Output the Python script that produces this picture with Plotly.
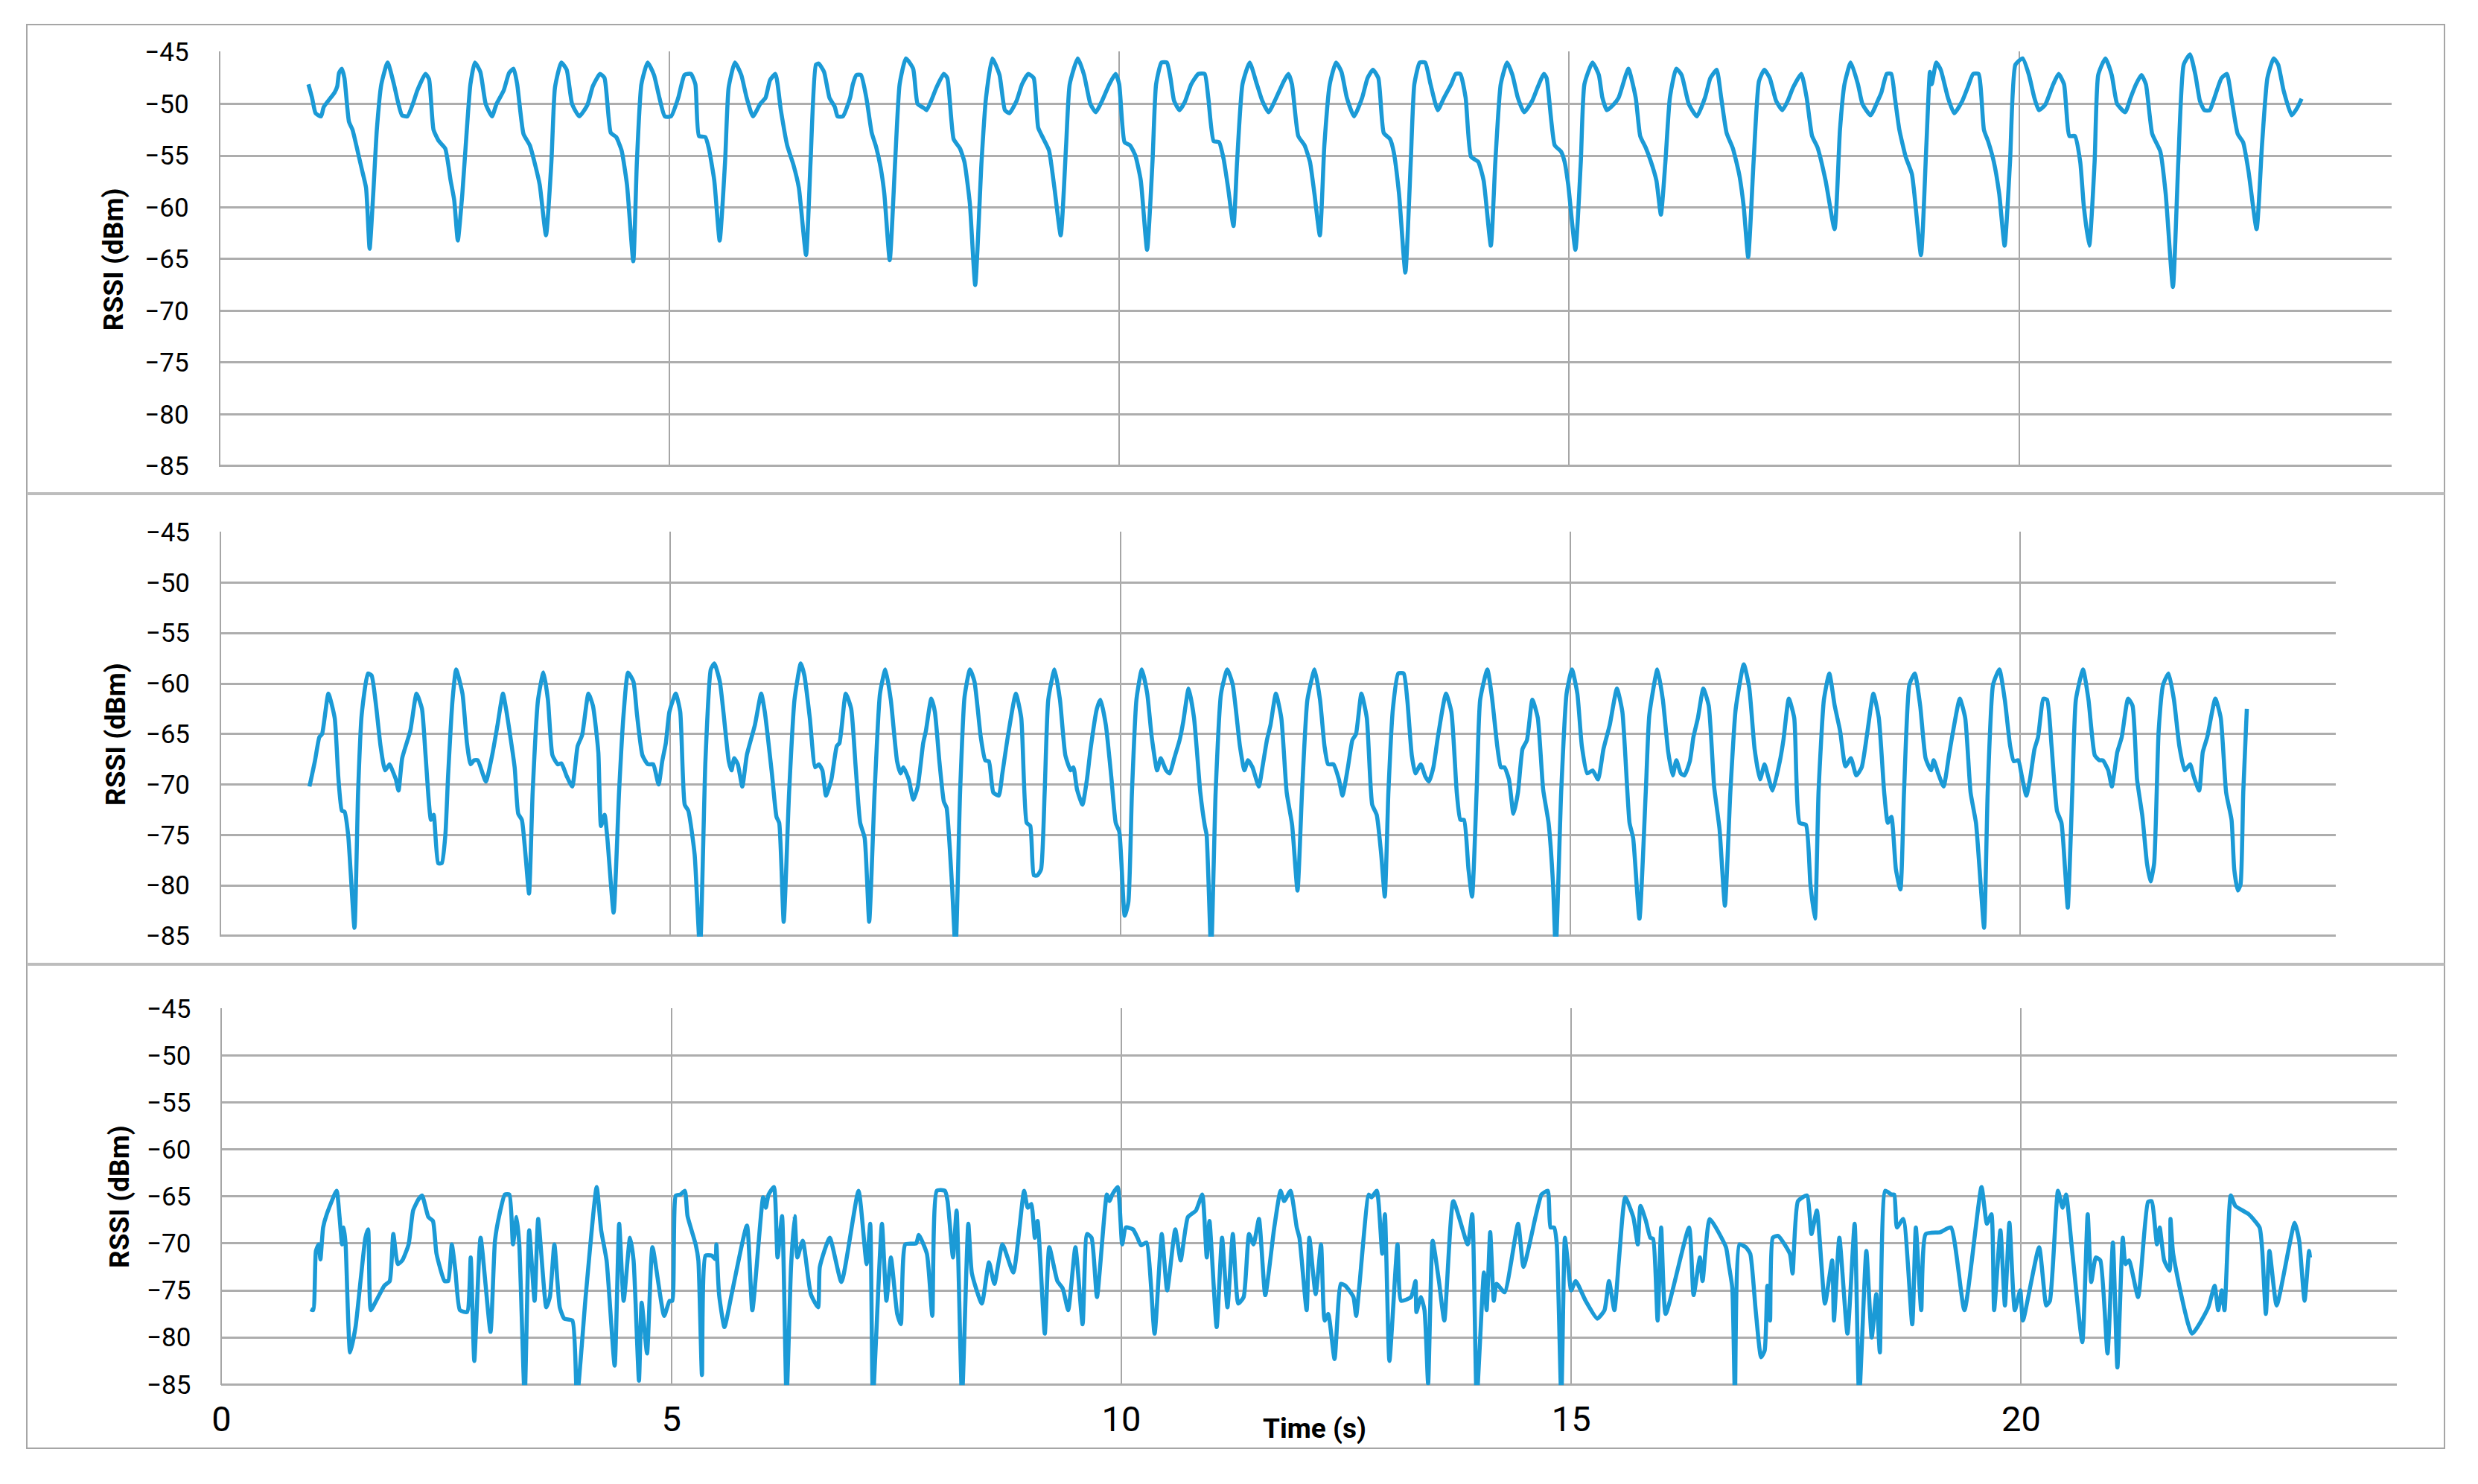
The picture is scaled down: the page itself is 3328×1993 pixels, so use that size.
import plotly.graph_objects as go

###############################################################################
# RSSI traces (time in s, RSSI in dBm)
# Dips that run off the bottom of the panel are written as -86.5.

top_t = [0.99, 1.03, 1.07, 1.13, 1.16, 1.28, 1.31, 1.33, 1.36, 1.39, 1.44, 1.48, 1.53, 1.58, 1.63, 1.67, 1.71, 1.75, 1.80, 1.87,
         1.94, 1.99, 2.03, 2.09, 2.15, 2.20, 2.29, 2.33, 2.38, 2.44, 2.51, 2.57, 2.61, 2.65, 2.70, 2.75, 2.79, 2.84, 2.90, 2.96,
         3.03, 3.08, 3.16, 3.22, 3.27, 3.31, 3.38, 3.45, 3.51, 3.56, 3.63, 3.69, 3.73, 3.80, 3.86, 3.92, 4.00, 4.09, 4.15, 4.23,
         4.28, 4.35, 4.41, 4.47, 4.53, 4.60, 4.64, 4.69, 4.76, 4.83, 4.89, 4.95, 5.02, 5.10, 5.17, 5.24, 5.29, 5.33, 5.40, 5.44,
         5.50, 5.56, 5.62, 5.66, 5.73, 5.80, 5.86, 5.93, 6.01, 6.07, 6.12, 6.18, 6.24, 6.31, 6.38, 6.44, 6.52, 6.57, 6.63, 6.66,
         6.72, 6.78, 6.84, 6.87, 6.93, 7.01, 7.04, 7.08, 7.13, 7.19, 7.25, 7.30, 7.35, 7.39, 7.45, 7.51, 7.56, 7.63, 7.71, 7.76,
         7.83, 7.86, 7.91, 7.97, 8.05, 8.09, 8.16, 8.23, 8.28, 8.34, 8.40, 8.47, 8.52, 8.59, 8.67, 8.73, 8.78, 8.86, 8.92, 8.99,
         9.05, 9.10, 9.16, 9.22, 9.28, 9.35, 9.41, 9.45, 9.54, 9.61, 9.68, 9.74, 9.81, 9.89, 9.96, 10.00, 10.06, 10.12, 10.18, 10.24,
         10.31, 10.37, 10.41, 10.47, 10.53, 10.57, 10.61, 10.67, 10.73, 10.80, 10.88, 10.95, 10.99, 11.05, 11.11, 11.16, 11.21, 11.27, 11.31, 11.37,
         11.45, 11.53, 11.59, 11.66, 11.74, 11.83, 11.88, 11.92, 11.99, 12.06, 12.12, 12.17, 12.23, 12.28, 12.34, 12.41, 12.47, 12.53, 12.61, 12.70,
         12.76, 12.82, 12.88, 12.94, 13.01, 13.05, 13.11, 13.18, 13.24, 13.28, 13.34, 13.40, 13.46, 13.54, 13.61, 13.69, 13.74, 13.79, 13.85, 13.91,
         13.99, 14.05, 14.13, 14.18, 14.24, 14.31, 14.37, 14.43, 14.50, 14.59, 14.65, 14.72, 14.75, 14.84, 14.91, 14.95, 14.99, 15.07, 15.13, 15.17,
         15.26, 15.33, 15.37, 15.42, 15.49, 15.55, 15.63, 15.66, 15.74, 15.79, 15.85, 15.91, 15.97, 16.02, 16.07, 16.12, 16.19, 16.25, 16.33, 16.42,
         16.51, 16.57, 16.64, 16.69, 16.75, 16.82, 16.89, 16.94, 16.99, 17.05, 17.11, 17.17, 17.23, 17.30, 17.37, 17.43, 17.49, 17.58, 17.64, 17.70,
         17.76, 17.85, 17.95, 18.01, 18.06, 18.13, 18.21, 18.26, 18.35, 18.43, 18.47, 18.53, 18.58, 18.62, 18.67, 18.74, 18.81, 18.91, 18.97, 19.01,
         19.03, 19.08, 19.13, 19.21, 19.28, 19.37, 19.43, 19.49, 19.55, 19.61, 19.66, 19.72, 19.78, 19.84, 19.90, 19.96, 20.04, 20.11, 20.17, 20.22,
         20.29, 20.38, 20.44, 20.50, 20.56, 20.62, 20.68, 20.72, 20.78, 20.84, 20.88, 20.96, 21.03, 21.09, 21.18, 21.24, 21.30, 21.36, 21.41, 21.48,
         21.57, 21.63, 21.71, 21.77, 21.83, 21.90, 21.96, 22.01, 22.06, 22.12, 22.16, 22.25, 22.31, 22.36, 22.43, 22.49, 22.55, 22.64, 22.70, 22.76,
         22.83, 22.88, 22.94, 23.03, 23.09, 23.14]
top_rssi = [-48.1, -49.4, -50.9, -51.2, -50.3, -48.9, -48.3, -47.0, -46.6, -47.5, -51.7, -52.5, -54.3, -56.2, -58.1, -64.0, -58.7, -52.5, -48.1, -46.0,
            -48.1, -50.0, -51.1, -51.2, -50.0, -48.7, -47.1, -47.6, -52.5, -53.6, -54.3, -57.4, -59.3, -63.2, -58.7, -52.5, -48.1, -46.0, -46.9, -50.0,
            -51.2, -50.0, -48.7, -47.0, -46.6, -48.1, -52.9, -54.0, -55.9, -57.8, -62.7, -55.6, -48.4, -46.0, -46.7, -50.0, -51.2, -50.1, -48.3, -47.1,
            -47.5, -52.8, -53.2, -54.5, -57.8, -65.2, -55.6, -48.1, -46.0, -47.2, -49.4, -51.2, -51.2, -49.4, -47.2, -47.1, -48.1, -53.1, -53.2, -54.3,
            -57.4, -63.2, -55.6, -48.4, -46.0, -47.2, -49.4, -51.2, -50.0, -49.4, -47.7, -47.1, -50.6, -54.0, -55.9, -58.1, -64.6, -55.6, -46.2, -46.1,
            -46.9, -49.4, -50.3, -51.2, -51.2, -49.4, -48.1, -47.2, -47.2, -49.4, -52.8, -54.2, -56.2, -58.7, -65.1, -55.6, -48.1, -45.6, -46.6, -50.0,
            -50.4, -50.6, -49.7, -48.4, -47.1, -47.5, -53.4, -54.3, -55.6, -59.6, -67.5, -55.6, -49.4, -45.6, -47.2, -50.6, -50.9, -49.7, -48.1, -47.1,
            -47.5, -52.3, -53.4, -54.5, -58.1, -62.7, -54.0, -48.1, -45.6, -47.2, -50.0, -50.8, -49.7, -48.1, -47.1, -48.1, -53.7, -54.0, -55.0, -57.4,
            -64.1, -55.6, -48.1, -46.0, -46.0, -47.5, -49.7, -50.6, -49.8, -48.1, -47.1, -47.1, -49.4, -53.6, -53.7, -55.3, -58.1, -61.8, -55.6, -48.1,
            -46.0, -48.1, -49.7, -50.8, -49.5, -47.8, -47.1, -48.1, -53.1, -54.0, -55.6, -58.7, -62.7, -54.0, -48.1, -46.0, -46.9, -49.4, -51.2, -49.4,
            -47.5, -46.7, -47.5, -52.8, -53.4, -54.6, -58.7, -66.3, -55.6, -48.1, -46.0, -46.0, -48.1, -50.6, -49.4, -48.1, -47.1, -47.1, -49.4, -55.1,
            -55.6, -57.4, -63.7, -55.6, -48.1, -46.0, -47.2, -49.4, -50.8, -49.7, -48.4, -47.1, -47.5, -54.0, -54.6, -55.6, -57.8, -64.1, -55.6, -48.1,
            -46.0, -47.2, -49.4, -50.6, -50.1, -49.4, -47.2, -46.6, -49.4, -53.1, -54.2, -55.6, -57.4, -60.7, -55.6, -49.4, -46.6, -47.2, -50.0, -51.2,
            -49.4, -47.5, -46.7, -49.4, -52.8, -54.3, -56.8, -59.9, -64.8, -55.6, -47.8, -46.7, -47.5, -49.7, -50.6, -49.7, -48.4, -47.1, -49.4, -53.1,
            -54.2, -57.4, -62.1, -52.5, -48.1, -46.0, -48.1, -50.0, -51.1, -49.7, -48.9, -47.1, -47.1, -49.4, -52.5, -55.1, -56.8, -64.6, -54.0, -46.9,
            -48.1, -46.0, -46.7, -49.4, -50.9, -49.7, -48.4, -47.1, -47.1, -52.5, -53.7, -55.6, -58.7, -63.7, -55.6, -46.2, -45.6, -47.2, -49.4, -50.6,
            -50.1, -48.1, -47.1, -48.1, -53.1, -53.1, -55.6, -59.9, -63.7, -55.6, -47.2, -45.6, -47.2, -50.0, -50.8, -49.4, -48.1, -47.2, -48.1, -52.9,
            -54.6, -58.7, -67.7, -55.6, -46.2, -45.2, -47.2, -49.7, -50.6, -50.6, -49.7, -47.5, -47.1, -49.4, -52.9, -53.7, -56.5, -62.1, -54.0, -47.5,
            -45.6, -46.2, -48.7, -51.1, -50.4, -49.5]

mid_t = [0.99, 1.05, 1.10, 1.13, 1.20, 1.27, 1.31, 1.35, 1.38, 1.42, 1.49, 1.53, 1.57, 1.64, 1.68, 1.73, 1.78, 1.83, 1.88, 1.92,
         1.95, 1.98, 2.02, 2.11, 2.18, 2.24, 2.28, 2.34, 2.37, 2.42, 2.46, 2.50, 2.53, 2.58, 2.62, 2.69, 2.74, 2.78, 2.82, 2.86,
         2.95, 3.02, 3.08, 3.14, 3.18, 3.27, 3.31, 3.35, 3.39, 3.43, 3.47, 3.53, 3.59, 3.64, 3.69, 3.75, 3.79, 3.85, 3.91, 3.97,
         4.02, 4.09, 4.14, 4.20, 4.23, 4.27, 4.30, 4.37, 4.43, 4.48, 4.53, 4.59, 4.63, 4.69, 4.75, 4.81, 4.87, 4.91, 4.95, 4.99,
         5.06, 5.11, 5.16, 5.20, 5.27, 5.33, 5.39, 5.45, 5.49, 5.55, 5.59, 5.65, 5.68, 5.71, 5.75, 5.80, 5.85, 5.94, 6.01, 6.05,
         6.13, 6.18, 6.21, 6.26, 6.32, 6.38, 6.45, 6.49, 6.55, 6.61, 6.65, 6.69, 6.73, 6.79, 6.85, 6.88, 6.95, 7.01, 7.06, 7.11,
         7.16, 7.21, 7.27, 7.33, 7.39, 7.45, 7.52, 7.56, 7.59, 7.65, 7.70, 7.75, 7.81, 7.84, 7.90, 7.94, 7.99, 8.04, 8.07, 8.13,
         8.17, 8.22, 8.27, 8.33, 8.38, 8.45, 8.50, 8.54, 8.59, 8.65, 8.69, 8.75, 8.84, 8.90, 8.96, 9.00, 9.04, 9.08, 9.12, 9.16,
         9.20, 9.27, 9.33, 9.39, 9.45, 9.48, 9.52, 9.58, 9.63, 9.67, 9.74, 9.78, 9.84, 9.90, 9.95, 9.99, 10.05, 10.09, 10.13, 10.18,
         10.24, 10.30, 10.35, 10.41, 10.45, 10.51, 10.55, 10.60, 10.66, 10.70, 10.76, 10.82, 10.89, 10.94, 10.96, 11.01, 11.06, 11.12, 11.19, 11.25,
         11.33, 11.38, 11.42, 11.47, 11.54, 11.58, 11.63, 11.67, 11.73, 11.79, 11.85, 11.91, 11.97, 12.02, 12.08, 12.16, 12.22, 12.27, 12.31, 12.37,
         12.43, 12.47, 12.53, 12.58, 12.62, 12.68, 12.74, 12.80, 12.85, 12.90, 12.94, 12.98, 13.03, 13.09, 13.15, 13.19, 13.24, 13.28, 13.34, 13.39,
         13.43, 13.48, 13.53, 13.62, 13.68, 13.74, 13.78, 13.82, 13.87, 13.91, 13.96, 14.00, 14.08, 14.13, 14.19, 14.23, 14.27, 14.32, 14.37, 14.42,
         14.47, 14.52, 14.58, 14.64, 14.70, 14.76, 14.81, 14.84, 14.90, 14.96, 15.02, 15.08, 15.13, 15.19, 15.25, 15.31, 15.37, 15.44, 15.52, 15.58,
         15.66, 15.70, 15.77, 15.84, 15.88, 15.97, 16.03, 16.09, 16.14, 16.18, 16.23, 16.27, 16.33, 16.37, 16.42, 16.48, 16.54, 16.60, 16.66, 16.72,
         16.78, 16.84, 16.93, 16.99, 17.05, 17.11, 17.16, 17.20, 17.25, 17.33, 17.37, 17.43, 17.49, 17.55, 17.62, 17.67, 17.72, 17.76, 17.82, 17.88,
         17.94, 18.00, 18.06, 18.12, 18.18, 18.24, 18.30, 18.37, 18.43, 18.49, 18.53, 18.57, 18.62, 18.67, 18.71, 18.77, 18.83, 18.89, 18.95, 19.01,
         19.04, 19.09, 19.15, 19.21, 19.25, 19.33, 19.39, 19.45, 19.51, 19.55, 19.60, 19.64, 19.70, 19.77, 19.83, 19.89, 19.93, 19.98, 20.02, 20.07,
         20.11, 20.16, 20.20, 20.26, 20.30, 20.35, 20.41, 20.46, 20.50, 20.53, 20.58, 20.62, 20.70, 20.76, 20.83, 20.88, 20.92, 20.98, 21.02, 21.08,
         21.13, 21.20, 21.25, 21.30, 21.36, 21.41, 21.45, 21.49, 21.54, 21.59, 21.65, 21.71, 21.77, 21.83, 21.89, 21.93, 21.99, 22.03, 22.08, 22.17,
         22.23, 22.29, 22.35, 22.38, 22.42, 22.45, 22.48, 22.52]
mid_rssi = [-70.2, -67.7, -65.3, -65.0, -61.0, -63.4, -69.2, -72.6, -72.7, -75.0, -84.2, -70.8, -63.1, -59.0, -59.2, -62.2, -66.2, -68.6, -68.0, -68.8,
            -69.5, -70.6, -67.4, -64.7, -61.0, -62.5, -67.1, -73.5, -73.0, -77.8, -77.8, -75.0, -69.2, -61.6, -58.6, -61.0, -65.9, -68.0, -67.6, -67.6,
            -69.7, -67.1, -64.1, -61.0, -62.8, -68.3, -72.9, -73.5, -76.9, -80.8, -70.8, -61.6, -58.9, -61.6, -67.1, -68.0, -67.9, -69.2, -70.2, -66.2,
            -65.1, -61.0, -62.2, -66.8, -74.1, -73.0, -75.3, -82.7, -70.8, -63.1, -58.9, -59.8, -63.1, -67.1, -68.0, -68.0, -70.0, -67.7, -65.9, -62.8,
            -61.0, -62.8, -72.0, -72.6, -76.9, -86.5, -67.7, -58.6, -58.0, -59.8, -62.8, -67.7, -68.6, -67.4, -68.0, -70.2, -67.1, -64.1, -61.0, -62.8,
            -69.0, -73.2, -73.8, -83.6, -70.8, -61.6, -58.0, -59.2, -63.4, -68.3, -68.0, -68.6, -71.1, -69.5, -66.2, -65.9, -61.0, -62.5, -68.3, -73.8,
            -75.3, -83.6, -70.8, -61.0, -58.6, -61.6, -67.7, -68.9, -68.3, -69.5, -71.5, -70.2, -65.9, -64.7, -61.5, -62.8, -67.7, -71.7, -72.3, -79.9,
            -86.5, -70.8, -61.3, -58.6, -59.8, -65.3, -67.6, -67.7, -70.8, -71.1, -68.9, -65.3, -61.0, -63.4, -73.8, -74.1, -79.0, -79.0, -78.4, -70.8,
            -61.6, -58.6, -61.6, -67.1, -68.6, -68.3, -70.5, -72.0, -69.5, -66.5, -62.5, -61.6, -64.1, -69.2, -73.8, -74.7, -83.0, -81.7, -70.8, -61.6,
            -58.6, -61.0, -65.3, -68.6, -67.4, -68.6, -68.9, -67.4, -65.6, -63.8, -60.5, -63.4, -70.8, -74.1, -75.0, -86.5, -70.8, -61.0, -58.6, -60.1,
            -66.2, -68.6, -67.6, -68.3, -70.2, -68.3, -65.6, -64.1, -61.0, -63.4, -70.8, -74.0, -80.5, -70.8, -61.6, -58.6, -61.6, -66.2, -68.0, -68.0,
            -69.5, -71.1, -68.3, -65.6, -65.0, -61.0, -63.4, -72.0, -73.0, -76.9, -81.1, -70.8, -62.5, -59.0, -59.0, -61.6, -67.1, -68.9, -68.0, -69.2,
            -69.7, -68.3, -65.3, -61.0, -62.8, -70.8, -73.5, -73.5, -78.4, -81.1, -70.8, -61.6, -58.6, -61.3, -66.2, -68.3, -68.3, -69.5, -72.9, -70.8,
            -66.5, -65.6, -61.6, -63.4, -70.5, -73.8, -79.9, -86.5, -70.8, -61.0, -58.6, -61.0, -66.2, -68.9, -68.6, -69.5, -66.5, -64.1, -60.5, -62.8,
            -73.8, -75.3, -83.3, -70.8, -63.1, -58.6, -61.6, -66.8, -69.1, -67.6, -68.9, -69.1, -67.7, -65.3, -63.4, -60.5, -62.2, -70.2, -74.4, -82.0,
            -70.8, -62.5, -58.1, -60.4, -66.5, -69.5, -68.0, -69.2, -70.6, -67.7, -65.6, -61.5, -63.4, -73.8, -74.0, -79.9, -83.3, -70.8, -61.6, -59.0,
            -62.2, -64.7, -68.2, -67.4, -69.1, -68.3, -65.0, -61.0, -63.4, -70.8, -73.8, -73.2, -78.4, -80.4, -70.8, -60.1, -59.0, -62.2, -67.4, -68.6,
            -67.6, -68.9, -70.2, -67.1, -65.0, -61.5, -63.4, -70.8, -73.8, -78.4, -84.2, -70.8, -60.1, -58.6, -61.6, -66.2, -67.7, -67.6, -69.2, -71.1,
            -69.5, -66.5, -65.3, -61.5, -61.6, -66.2, -72.6, -73.8, -78.4, -82.2, -70.8, -61.6, -58.6, -61.6, -67.1, -67.6, -67.6, -68.6, -70.2, -66.8,
            -65.3, -61.5, -62.2, -69.5, -73.2, -77.8, -79.6, -77.8, -64.7, -60.1, -59.0, -61.6, -66.2, -68.6, -68.0, -69.2, -70.6, -66.8, -65.3, -61.5,
            -63.4, -70.8, -73.5, -78.4, -80.5, -79.9, -70.8, -62.5]

bot_t = [0.99, 1.02, 1.05, 1.08, 1.10, 1.13, 1.17, 1.28, 1.31, 1.34, 1.36, 1.38, 1.43, 1.49, 1.55, 1.60, 1.63, 1.66, 1.72, 1.81,
         1.87, 1.91, 1.96, 2.01, 2.08, 2.13, 2.19, 2.23, 2.30, 2.35, 2.39, 2.48, 2.52, 2.56, 2.60, 2.65, 2.73, 2.77, 2.81, 2.88,
         2.99, 3.04, 3.09, 3.15, 3.20, 3.24, 3.28, 3.31, 3.37, 3.42, 3.48, 3.52, 3.61, 3.65, 3.70, 3.76, 3.81, 3.90, 3.95, 4.05,
         4.17, 4.22, 4.28, 4.37, 4.42, 4.47, 4.54, 4.58, 4.64, 4.67, 4.73, 4.79, 4.92, 4.98, 5.01, 5.05, 5.10, 5.15, 5.18, 5.27,
         5.30, 5.34, 5.38, 5.45, 5.49, 5.50, 5.53, 5.59, 5.67, 5.84, 5.90, 6.02, 6.05, 6.08, 6.14, 6.18, 6.23, 6.28, 6.33, 6.37,
         6.40, 6.46, 6.55, 6.63, 6.65, 6.76, 6.89, 7.08, 7.17, 7.21, 7.24, 7.34, 7.39, 7.44, 7.51, 7.55, 7.60, 7.72, 7.75, 7.84,
         7.90, 7.95, 8.04, 8.07, 8.13, 8.17, 8.23, 8.30, 8.34, 8.45, 8.53, 8.59, 8.68, 8.80, 8.92, 8.96, 9.00, 9.04, 9.07, 9.15,
         9.20, 9.29, 9.35, 9.41, 9.49, 9.57, 9.62, 9.67, 9.73, 9.84, 9.87, 9.90, 9.96, 10.01, 10.05, 10.13, 10.18, 10.22, 10.28, 10.37,
         10.45, 10.51, 10.60, 10.66, 10.74, 10.83, 10.90, 10.95, 10.98, 11.06, 11.12, 11.18, 11.24, 11.30, 11.36, 11.42, 11.47, 11.53, 11.60, 11.70,
         11.77, 11.81, 11.88, 11.95, 11.98, 12.06, 12.09, 12.16, 12.22, 12.26, 12.30, 12.37, 12.44, 12.49, 12.58, 12.61, 12.75, 12.78, 12.84, 12.90,
         12.93, 12.98, 13.07, 13.11, 13.22, 13.27, 13.28, 13.33, 13.37, 13.41, 13.46, 13.53, 13.59, 13.69, 13.85, 13.90, 13.95, 14.03, 14.06, 14.10,
         14.14, 14.17, 14.26, 14.41, 14.47, 14.61, 14.67, 14.74, 14.77, 14.81, 14.84, 14.89, 14.93, 14.96, 15.00, 15.05, 15.16, 15.29, 15.37, 15.42,
         15.48, 15.53, 15.60, 15.69, 15.74, 15.77, 15.83, 15.88, 15.91, 15.96, 16.00, 16.05, 16.31, 16.36, 16.43, 16.46, 16.54, 16.72, 16.75, 16.79,
         16.82, 16.87, 16.94, 16.99, 17.05, 17.11, 17.15, 17.18, 17.21, 17.24, 17.30, 17.43, 17.46, 17.52, 17.62, 17.67, 17.73, 17.82, 17.90, 17.92,
         17.98, 18.07, 18.15, 18.20, 18.28, 18.34, 18.39, 18.43, 18.49, 18.56, 18.59, 18.62, 18.69, 18.79, 18.83, 18.89, 18.94, 19.10, 19.22, 19.37,
         19.56, 19.62, 19.67, 19.70, 19.77, 19.82, 19.87, 19.93, 19.99, 20.02, 20.20, 20.28, 20.32, 20.41, 20.46, 20.50, 20.56, 20.68, 20.74, 20.78,
         20.83, 20.88, 20.96, 21.02, 21.07, 21.13, 21.16, 21.20, 21.30, 21.41, 21.45, 21.51, 21.54, 21.59, 21.65, 21.66, 21.69, 21.90, 22.08, 22.15,
         22.19, 22.23, 22.26, 22.33, 22.38, 22.53, 22.65, 22.68, 22.72, 22.76, 22.84, 23.04, 23.09, 23.15, 23.20, 23.21]
bot_rssi = [-77.0, -77.1, -70.8, -70.1, -71.7, -68.3, -66.9, -64.4, -66.9, -70.1, -68.3, -70.1, -81.6, -78.9, -73.6, -69.4, -68.5, -77.1, -76.1, -74.5,
            -74.0, -69.0, -72.2, -71.8, -70.1, -66.5, -65.3, -64.9, -67.2, -67.6, -71.1, -74.0, -74.0, -70.1, -72.9, -77.1, -77.3, -71.5, -82.5, -69.4,
            -79.4, -69.7, -66.9, -64.8, -64.8, -70.1, -67.2, -70.1, -86.5, -68.6, -76.1, -67.4, -76.8, -75.7, -70.1, -76.8, -78.0, -78.2, -86.5, -75.4,
            -64.0, -68.6, -71.8, -83.0, -67.9, -76.1, -69.4, -71.8, -84.6, -76.3, -81.7, -70.4, -77.7, -76.1, -76.1, -64.9, -64.8, -64.4, -67.1, -70.1,
            -71.8, -84.0, -71.3, -71.3, -71.7, -70.1, -75.4, -78.9, -75.4, -68.1, -77.1, -65.1, -66.2, -64.8, -64.0, -71.5, -67.1, -86.5, -72.5, -67.1,
            -71.5, -69.7, -75.4, -76.8, -72.5, -69.4, -74.1, -64.4, -72.2, -67.9, -86.5, -67.9, -76.1, -71.5, -77.5, -78.6, -70.1, -70.0, -69.1, -71.1,
            -77.7, -64.4, -64.4, -65.5, -71.5, -66.5, -86.5, -67.9, -73.2, -76.4, -72.0, -74.3, -70.1, -73.1, -64.4, -66.2, -65.8, -69.4, -67.6, -79.6,
            -70.4, -74.0, -74.8, -77.1, -70.4, -78.6, -69.0, -69.4, -75.7, -64.8, -65.5, -64.8, -64.0, -70.1, -68.3, -68.5, -69.4, -70.2, -69.9, -79.6,
            -69.0, -75.0, -68.5, -71.8, -67.2, -66.5, -64.8, -71.5, -67.6, -78.9, -69.4, -76.8, -69.0, -76.4, -75.7, -69.0, -70.1, -67.4, -75.5, -68.3,
            -64.4, -65.5, -64.4, -68.3, -69.4, -77.1, -69.4, -75.4, -70.1, -78.2, -77.5, -82.3, -74.3, -74.5, -75.7, -77.7, -64.8, -65.1, -64.4, -71.1,
            -66.9, -82.5, -70.1, -76.1, -75.7, -74.0, -77.3, -75.7, -77.1, -84.9, -69.7, -74.0, -78.2, -65.5, -70.1, -66.9, -86.5, -73.1, -77.1, -68.8,
            -76.1, -74.3, -75.2, -67.9, -72.5, -66.9, -64.8, -64.4, -68.3, -68.3, -70.1, -86.5, -69.4, -71.8, -75.0, -74.0, -76.1, -78.0, -77.1, -74.0,
            -77.1, -71.8, -65.1, -67.2, -70.1, -66.0, -67.6, -69.4, -69.5, -78.2, -68.3, -77.5, -68.3, -75.5, -71.5, -74.0, -67.4, -70.4, -72.2, -74.7,
            -86.5, -70.1, -70.4, -71.1, -77.1, -82.1, -81.4, -74.5, -78.2, -69.4, -69.2, -71.1, -73.2, -65.5, -64.9, -69.0, -66.5, -76.4, -71.8, -78.2,
            -69.4, -79.6, -67.9, -86.5, -70.8, -80.0, -75.4, -81.6, -64.4, -64.8, -64.8, -68.3, -67.4, -78.6, -68.3, -77.1, -69.0, -68.8, -68.3, -77.1,
            -64.0, -67.9, -66.9, -77.1, -68.6, -76.6, -67.8, -77.1, -75.0, -78.2, -70.4, -76.6, -76.1, -64.4, -66.2, -64.8, -70.1, -80.5, -66.9, -74.1,
            -71.5, -71.8, -81.7, -69.9, -83.2, -69.4, -72.2, -71.8, -75.7, -65.6, -65.5, -70.1, -68.3, -71.8, -72.9, -67.4, -71.1, -79.6, -76.8, -74.5,
            -77.1, -75.0, -77.1, -64.9, -66.0, -66.9, -68.3, -70.8, -77.5, -70.8, -76.6, -67.8, -69.7, -76.1, -70.8, -71.5]

y_ticks = [-45, -50, -55, -60, -65, -70, -75, -80, -85]
x_ticks = [0, 5, 10, 15, 20]
y_title = "RSSI (dBm)"
x_title = "Time (s)"

###############################################################################
# Page geometry (pixels on a 3328 x 1993 page)

W, H = 3328, 1993
px_per_s = 120.85
LINE = "#1B9AD6"
GRID_H = "#ADADAD"
GRID_V = "#A6A6A6"
FONT = "Roboto, 'Open Sans', sans-serif"

# plot area of each panel: left, right, top, bottom
panels = [
    (294.6, 3211.5, 69.4, 627.0),
    (296.0, 3137.4, 714.0, 1258.0),
    (297.4, 3219.0, 1353.7, 1860.3),
]
series = [(top_t, top_rssi), (mid_t, mid_rssi), (bot_t, bot_rssi)]

fig = go.Figure()
layout = {}
annotations = []

for i, ((l, r, t, b), (xs, ys)) in enumerate(zip(panels, series)):
    n = "" if i == 0 else str(i + 1)
    fig.add_trace(go.Scatter(
        x=xs, y=ys, mode="lines",
        line=dict(color=LINE, width=5.5, shape="spline", smoothing=0.5),
        xaxis="x" + n, yaxis="y" + n,
        showlegend=False, hoverinfo="skip",
    ))
    last = i == 2
    layout["xaxis" + n] = dict(
        domain=[l / W, r / W],
        anchor="y" + n,
        range=[0, (r - l) / px_per_s],
        tickvals=x_ticks,
        showticklabels=last,
        showgrid=True, gridcolor=GRID_V, gridwidth=2,
        zeroline=True, zerolinecolor=GRID_V, zerolinewidth=2,
        showline=False, ticks="", automargin=False,
        ticklabelstandoff=14,
        tickfont=dict(family=FONT, size=47, color="#000000"),
    )
    layout["yaxis" + n] = dict(
        domain=[1 - b / H, 1 - t / H],
        anchor="x" + n,
        range=[-85.08, -44.95],
        tickvals=y_ticks,
        showgrid=True, gridcolor=GRID_H, gridwidth=3,
        zeroline=False, showline=False, ticks="", automargin=False,
        ticklabelstandoff=40,
        tickfont=dict(family=FONT, size=35, color="#000000"),
    )
    annotations.append(dict(
        text="<b>%s</b>" % y_title, textangle=-90,
        xref="paper", yref="paper",
        x=(152 + 4 * i) / W, y=1 - (t + b) / 2 / H,
        xanchor="center", yanchor="middle", showarrow=False,
        font=dict(family=FONT, size=37, color="#000000"),
    ))

annotations.append(dict(
    text="<b>%s</b>" % x_title,
    xref="paper", yref="paper", x=1765 / W, y=1 - 1918 / H,
    xanchor="center", yanchor="middle", showarrow=False,
    font=dict(family=FONT, size=37, color="#000000"),
))

# outer frame and the lines between the three panels
frame = "#A6A6A6"
shapes = [
    dict(type="rect", xref="paper", yref="paper",
         x0=36 / W, x1=3283 / W, y0=1 - 1945 / H, y1=1 - 33 / H,
         line=dict(color=frame, width=2)),
]
for ysep in (663, 1295):
    shapes.append(dict(type="line", xref="paper", yref="paper",
                       x0=36 / W, x1=3283 / W, y0=1 - ysep / H, y1=1 - ysep / H,
                       line=dict(color="#BDBDBD", width=4)))

fig.update_layout(
    width=W, height=H, autosize=False,
    margin=dict(l=0, r=0, t=0, b=0, autoexpand=False),
    paper_bgcolor="white", plot_bgcolor="white",
    annotations=annotations, shapes=shapes,
    **layout,
)

# no page margin, so the figure sits at the top-left corner of the window
fig.write_html(
    "out.html",
    config={"displayModeBar": False},
    post_script="document.body.style.margin='0';document.body.style.overflow='hidden';",
)
